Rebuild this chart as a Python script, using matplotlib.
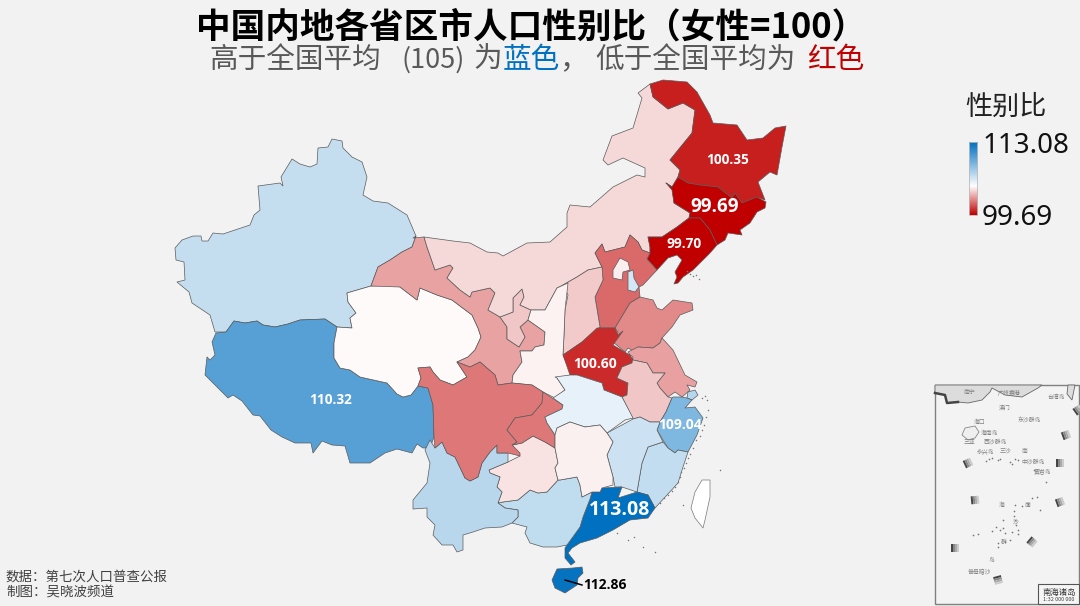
import matplotlib

matplotlib.use("Agg")

import math

import matplotlib.pyplot as plt
import numpy as np
from matplotlib.colors import LinearSegmentedColormap, TwoSlopeNorm
from matplotlib.patches import Polygon, Rectangle

plt.rcParams["font.family"] = ["Noto Sans CJK SC", "DejaVu Sans"]

# outlines, in image pixels
XINJIANG = [(175,248),(182,240),(193,236),(201,236),(202,241),(208,241),(213,233),(223,234),(250,225),(254,215),(260,210),(258,186),(280,183),(283,186),(281,177),(292,159),(300,164),(310,167),(317,164),(318,148),(328,147),(332,139),(342,141),(343,148),(352,157),(362,162),(367,177),(363,195),(373,201),(388,203),(407,215),(416,236),(412,247),(402,252),(390,260),(378,267),(371,286),(347,293),(348,302),(356,313),(350,318),(352,328),(337,327),(325,319),(300,320),(288,324),(275,327),(263,325),(257,321),(245,323),(234,321),(226,332),(215,332),(210,315),(192,303),(189,292),(177,282),(185,280),(184,262),(176,260)]
TIBET = [(212,342),(216,333),(226,332),(234,321),(245,323),(257,321),(263,325),(275,327),(288,324),(300,320),(325,319),(337,327),(334,343),(334,358),(340,368),(350,370),(360,377),(387,383),(397,394),(403,397),(411,395),(418,386),(428,388),(433,405),(434,437),(430,448),(423,448),(417,444),(412,453),(397,449),(385,453),(370,463),(350,463),(345,446),(332,445),(322,441),(313,453),(311,443),(295,443),(282,437),(271,430),(260,416),(253,415),(242,401),(233,395),(228,398),(215,385),(205,375),(207,357),(210,360),(215,355)]
QINGHAI = [(347,293),(371,286),(393,285),(400,287),(417,300),(420,288),(437,295),(452,300),(472,315),(478,328),(481,337),(475,350),(468,357),(457,362),(467,377),(453,385),(440,380),(433,372),(430,367),(418,368),(421,378),(418,386),(411,395),(403,397),(397,394),(387,383),(360,377),(350,370),(340,368),(334,358),(334,343),(337,327),(352,328),(350,318),(356,313),(348,302)]
GANSU = [(413,238),(424,237),(427,247),(435,270),(450,265),(453,268),(447,278),(460,290),(470,297),(472,292),(490,288),(495,293),(488,310),(500,317),(507,327),(507,339),(519,347),(525,337),(520,327),(528,320),(545,332),(544,345),(535,347),(532,351),(520,351),(522,362),(513,375),(512,383),(498,385),(495,375),(480,362),(470,367),(457,362),(468,357),(475,350),(481,337),(478,328),(472,315),(452,300),(437,295),(420,288),(417,300),(400,287),(371,286),(378,267),(390,260),(402,252),(412,247),(416,236)]
NINGXIA = [(500,317),(513,312),(513,298),(522,289),(524,297),(520,305),(531,310),(528,320),(520,327),(525,337),(519,347),(507,339),(507,327)]
INNER_MONGOLIA = [(424,237),(453,241),(470,243),(487,252),(498,253),(503,256),(527,243),(550,242),(567,227),(567,213),(570,205),(590,207),(613,187),(637,175),(645,177),(645,168),(623,158),(608,165),(603,160),(612,136),(633,128),(642,98),(638,93),(650,84),(653,97),(668,109),(683,103),(695,110),(692,133),(670,160),(680,170),(678,177),(672,187),(666,183),(672,187),(674,203),(690,213),(689,218),(677,227),(662,237),(648,237),(650,247),(650,253),(642,250),(638,242),(630,235),(625,247),(605,252),(602,244),(595,253),(602,267),(588,270),(577,277),(563,285),(557,288),(545,310),(531,310),(520,305),(524,297),(522,289),(513,298),(513,312),(500,317),(488,310),(495,293),(490,288),(472,292),(470,297),(460,290),(447,278),(453,268),(450,265),(435,270),(427,247)]
HEILONGJIANG = [(650,84),(663,80),(687,82),(697,92),(710,115),(713,123),(737,125),(747,140),(763,138),(775,128),(786,126),(782,147),(777,175),(770,172),(758,182),(765,200),(757,197),(742,203),(735,193),(732,198),(718,187),(700,185),(688,183),(678,177),(680,170),(670,160),(692,133),(695,110),(683,103),(668,109),(653,97)]
JILIN = [(666,183),(672,187),(678,177),(688,183),(700,185),(718,187),(732,198),(735,193),(742,203),(757,197),(766,202),(765,208),(757,212),(750,223),(740,230),(742,235),(728,233),(725,240),(717,245),(710,230),(700,218),(689,218),(690,213),(674,203),(672,190)]
LIAONING = [(648,237),(662,237),(677,227),(689,218),(700,218),(710,230),(717,245),(710,253),(693,270),(683,277),(678,283),(674,284),(677,277),(675,272),(682,260),(677,255),(668,258),(657,270),(647,259),(650,253),(650,247)]
HEBEI = [(595,253),(602,244),(605,252),(625,247),(630,235),(638,242),(642,250),(650,253),(647,259),(657,270),(643,285),(639,287),(640,297),(630,303),(615,328),(597,328),(600,327),(595,297),(603,280),(602,267)]
BEIJING = [(613,270),(620,258),(628,262),(630,270),(623,272),(622,280),(613,278)]
TIANJIN = [(628,272),(633,270),(634,278),(639,287),(635,292),(628,290)]
SHANXI = [(563,285),(577,277),(588,270),(602,267),(603,280),(595,297),(600,327),(582,342),(563,355),(564,335),(565,310),(568,295)]
SHAANXI = [(568,283),(557,288),(545,310),(531,310),(528,320),(545,332),(544,345),(535,347),(532,351),(520,351),(522,362),(513,375),(512,383),(532,385),(543,392),(555,398),(565,390),(557,378),(572,375),(563,355),(564,335),(565,310)]
SHANDONG = [(613,342),(618,332),(615,328),(630,303),(640,297),(653,300),(657,308),(662,310),(673,300),(692,303),(693,310),(680,315),(672,327),(662,338),(660,343),(653,348),(638,347),(635,352),(628,348),(625,352)]
HENAN = [(597,328),(615,328),(618,335),(623,331),(613,345),(633,357),(632,363),(622,367),(617,378),(628,383),(627,395),(622,397),(604,390),(602,383),(577,375),(570,375),(563,355),(582,342)]
JIANGSU = [(628,352),(638,347),(653,348),(660,343),(662,338),(673,350),(685,375),(697,382),(695,387),(687,385),(690,390),(682,397),(675,392),(668,397),(660,388),(657,383),(665,373),(653,373),(647,363),(633,360)]
ANHUI = [(629,354),(633,360),(647,363),(653,373),(665,373),(657,383),(660,388),(668,397),(672,398),(666,412),(660,422),(650,422),(640,417),(633,419),(622,397),(627,395),(628,383),(617,378),(622,367),(632,363),(633,357)]
SHANGHAI = [(688,392),(695,390),(698,395),(692,400),(687,398)]
ZHEJIANG = [(672,398),(673,397),(682,397),(687,398),(692,400),(685,408),(695,407),(703,418),(697,435),(688,452),(678,450),(675,453),(668,448),(663,440),(657,430),(660,422),(666,412)]
FUJIAN = [(663,442),(668,448),(675,453),(678,450),(688,452),(683,467),(678,483),(667,495),(655,508),(648,495),(637,492),(642,463),(648,447)]
JIANGXI = [(607,433),(622,425),(633,419),(640,417),(650,422),(660,422),(657,430),(663,442),(648,447),(642,463),(637,492),(622,487),(615,487),(613,477),(607,455),(613,442)]
GUANGDONG = [(592,492),(600,492),(602,488),(622,487),(618,498),(637,492),(648,495),(655,508),(648,518),(630,520),(613,530),(597,538),(580,543),(572,548),(568,553),(575,562),(571,565),(565,558),(565,548),(567,545),(580,527),(583,517),(590,499)]
HAINAN = [(557,569),(573,568),(582,567),(583,573),(578,578),(577,585),(565,593),(555,588),(552,580)]
GUANGXI = [(498,503),(503,502),(518,500),(530,490),(538,493),(547,492),(558,480),(560,480),(577,477),(580,485),(582,497),(592,492),(590,499),(583,517),(580,527),(567,545),(557,547),(543,547),(530,543),(525,533),(527,527),(512,523),(518,517),(518,510),(505,508)]
GUIZHOU = [(489,470),(508,462),(520,456),(512,445),(522,443),(533,436),(545,442),(555,448),(558,463),(555,468),(558,480),(547,492),(538,493),(530,490),(518,500),(503,502),(498,503),(502,492),(497,487),(500,477),(490,473)]
YUNNAN = [(430,440),(435,448),(442,442),(447,453),(455,457),(465,478),(470,481),(478,477),(482,463),(490,452),(497,445),(497,453),(508,453),(508,462),(489,470),(490,473),(500,477),(497,487),(502,492),(498,503),(505,508),(518,510),(518,517),(512,523),(502,527),(485,528),(473,532),(463,535),(463,550),(457,552),(453,545),(442,545),(433,535),(435,525),(427,517),(427,508),(413,509),(413,500),(427,483),(430,463),(425,450)]
SICHUAN = [(418,368),(430,367),(433,372),(440,380),(453,385),(467,377),(457,362),(470,367),(480,362),(495,375),(498,385),(512,383),(532,385),(543,392),(542,403),(532,415),(515,418),(507,430),(517,442),(512,445),(520,453),(520,456),(508,453),(497,453),(497,445),(490,452),(482,463),(478,477),(470,481),(465,478),(455,457),(447,453),(442,442),(435,448),(434,437),(433,405),(428,388),(418,386),(421,378)]
CHONGQING = [(543,392),(563,405),(562,409),(545,417),(547,423),(555,435),(555,448),(545,442),(533,436),(522,443),(513,445),(517,442),(507,430),(515,418),(532,415),(542,403)]
HUBEI = [(555,377),(570,375),(577,375),(602,383),(604,390),(622,397),(633,418),(625,420),(607,433),(600,425),(585,427),(570,422),(557,428),(555,435),(547,423),(545,417),(562,409),(563,405),(553,398),(565,390),(557,378)]
HUNAN = [(555,435),(557,428),(570,422),(585,427),(600,425),(607,433),(613,442),(607,455),(613,477),(613,485),(602,488),(600,492),(592,492),(582,497),(580,485),(577,477),(560,480),(558,480),(555,468),(558,463),(555,448)]
TAIWAN = [(702,480),(710,480),(710,497),(705,520),(703,528),(695,518),(691,508),(695,492)]

# province outlines, values read off the picture or estimated from the fill colour
OUTLINES = [XINJIANG, TIBET, QINGHAI, GANSU, NINGXIA, INNER_MONGOLIA, HEILONGJIANG, JILIN, LIAONING, HEBEI, BEIJING, TIANJIN, SHANXI, SHAANXI, SHANDONG, HENAN, JIANGSU, ANHUI, SHANGHAI, ZHEJIANG, FUJIAN, JIANGXI, GUANGDONG, HAINAN, GUANGXI, GUIZHOU, YUNNAN, SICHUAN, CHONGQING, HUBEI, HUNAN]
RATIOS = [106.85, 110.32, 104.9, 103.09, 103.8, 104.2, 100.35, 99.69, 99.70, 101.92, 104.65, 106.33, 103.9, 104.73, 102.56, 100.60, 103.03, 103.8, 107.33, 109.04, 106.94, 106.62, 113.08, 112.86, 107.0, 104.4, 107.24, 102.19, 102.19, 105.8, 104.7]

VALUE_LABELS = ["100.35", "99.69", "99.70", "100.60", "110.32", "109.04", "113.08"]
LABEL_X = [728, 715, 684, 595, 331, 680, 620]
LABEL_Y = [160, 207, 244, 364, 400, 425, 510]
LABEL_SIZE = [9.8, 13.6, 9.8, 10, 9.8, 10, 14]

ISLAND_X = [687, 690, 693, 696, 699, 702, 705, 707, 708, 706, 704, 702, 700, 696, 693, 690, 688, 686, 684, 681, 680, 678, 675, 672, 668, 664, 660, 617, 634, 628, 643, 655, 683, 720]
ISLAND_Y = [271, 274, 276, 275, 279, 398, 396, 400, 410, 417, 425, 430, 436, 440, 448, 454, 458, 463, 468, 472, 477, 482, 487, 491, 495, 498, 503, 533, 537, 540, 547, 552, 505, 470]

INSET_DOT_X = [986, 989, 992, 998, 1000, 1010, 1012, 1015, 1018, 1034, 1046, 1003, 1015, 1014, 1014, 1015, 1016, 1022, 1028, 1032, 1037, 1040, 1018, 1003, 1000, 996, 992, 978, 973, 1005, 1012, 1018, 1010, 998, 1005, 998]
INSET_DOT_Y = [461, 459, 458, 460, 459, 462, 464, 459, 460, 470, 482, 520, 505, 511, 516, 520, 525, 506, 504, 498, 497, 510, 530, 528, 530, 527, 531, 534, 535, 533, 532, 534, 540, 547, 542, 543]
DASH_X = [968, 975, 955, 998, 1032, 1060, 1060, 1066, 1078]
DASH_Y = [463, 500, 548, 580, 542, 502, 463, 435, 410]
DASH_ANGLE = [-25, -5, 0, 75, 40, -20, 0, -20, -35]

INSET_LAND = [(935,385),(1042,385),(1038,388),(1022,397),(1005,395),(992,388),(990,392),(982,400),(968,403),(958,402),(947,403),(945,395),(935,393)]
INSET_SHORE = [(935,393),(945,395),(947,403),(958,402)]
INSET_HAINAN = [(965,428),(975,426),(979,432),(975,438),(968,440),(962,435)]
INSET_TAIWAN = [(1068,385),(1075,385),(1072,400),(1067,394)]
INSET_TEXTS = ["南宁", "广州", "香港", "澳门", "台湾岛", "东沙群岛", "海口", "海南岛", "三亚", "西沙群岛", "永兴岛", "三沙", "南", "中沙群岛", "黄岩岛", "海", "南", "沙", "群", "岛", "曾母暗沙"]
INSET_TEXT_X = [970, 1004, 1015, 1005, 1056, 1029, 980, 990, 969, 995, 986, 1005, 1025, 1033, 1043, 1002, 1028, 1016, 1004, 991, 979]
INSET_TEXT_Y = [392, 392, 392, 408, 397, 420, 422, 433, 442, 442, 451, 451, 451, 462, 471, 505, 505, 522, 542, 561, 572]

BACKGROUND = "#f2f2f2"
ratio_cmap = LinearSegmentedColormap.from_list("ratio", ["#c00000", "#ffffff", "#0070c0"])
ratio_norm = TwoSlopeNorm(vmin=99.69, vcenter=105, vmax=113.08)

fig = plt.figure(figsize=(10.8, 6.06), dpi=100, facecolor=BACKGROUND)
ax = fig.add_axes([0, 0, 1, 1])
ax.set_facecolor(BACKGROUND)

for outline, ratio in zip(OUTLINES, RATIOS):
    ax.add_patch(Polygon(outline, closed=True, facecolor=ratio_cmap(ratio_norm(ratio)), edgecolor="#5a5a5a", linewidth=0.5, joinstyle="round", zorder=2))
ax.add_patch(Polygon(TAIWAN, closed=True, facecolor="white", edgecolor="#777777", linewidth=0.5, zorder=2))
ax.scatter(ISLAND_X, ISLAND_Y, s=1.2, color="#777777", linewidths=0, zorder=2)

for text, x, y, size in zip(VALUE_LABELS, LABEL_X, LABEL_Y, LABEL_SIZE):
    ax.text(x, y, text, color="white", fontsize=size, family="Open Sans", fontweight="bold", ha="center", va="center", zorder=5)
ax.plot([565, 582], [580, 585], color="black", linewidth=1.1, zorder=5)
ax.text(605, 585, "112.86", color="black", fontsize=10, family="Open Sans", fontweight="bold", ha="center", va="center", zorder=5)

# titles, coloured pieces placed one after another
ax.text(531, 27, "中国内地各省区市人口性别比（女性=100）", fontsize=24.9, fontweight="bold", color="black", ha="center", va="center")
for piece, x, color, size in [
    ("高于全国平均", 209, "#595959", 20.6),
    ("(105)", 401, "#595959", 19.5),
    ("为", 473, "#595959", 20.6),
    ("蓝色", 503, "#0070c0", 20.6),
    ("，", 559, "#595959", 20.6),
    ("低于全国平均为", 595, "#595959", 20.6),
    ("红色", 807, "#c00000", 20.6),
]:
    ax.text(x, 60, piece, fontsize=size, color=color, ha="left", va="center")

# legend
ax.text(1006, 107, "性别比", fontsize=19.5, color="#222222", ha="center", va="center")
gradient = np.linspace(113.08, 99.69, 200).reshape(-1, 1)
ax.imshow(ratio_norm(gradient), cmap=ratio_cmap, vmin=0, vmax=1, extent=(968.5, 977, 215, 142), aspect="auto", zorder=3)
ax.add_patch(Rectangle((968.5, 142), 8.5, 73, fill=False, edgecolor="#bbbbbb", linewidth=0.6, zorder=4))
ax.text(983, 146, "113.08", fontsize=20, family="Noto Sans", color="#111111", ha="left", va="center")
ax.text(982, 218, "99.69", fontsize=20, family="Noto Sans", color="#111111", ha="left", va="center")

ax.text(6, 577, "数据：第七次人口普查公报", fontsize=9.7, color="#404040", ha="left", va="center")
ax.text(6, 593, "制图：吴晓波频道", fontsize=9.7, color="#404040", ha="left", va="center")

# inset of the south china sea
ax.add_patch(Rectangle((935, 385), 144, 219, facecolor="#f3f3f3", edgecolor="#808080", linewidth=1.0, zorder=6))
ax.add_patch(Polygon(INSET_LAND, closed=True, facecolor="#dcdcdc", edgecolor="#666666", linewidth=0.6, zorder=7))
ax.plot(*zip(*INSET_SHORE), color="#444444", linewidth=1.8, zorder=7)
ax.add_patch(Polygon(INSET_HAINAN, closed=True, facecolor="#efefef", edgecolor="#888888", linewidth=0.6, zorder=7))
ax.add_patch(Polygon(INSET_TAIWAN, closed=True, facecolor="#dddddd", edgecolor="#666666", linewidth=0.6, zorder=7))
ax.scatter(INSET_DOT_X, INSET_DOT_Y, s=1.5, color="#777777", linewidths=0, zorder=7)
for text, x, y in zip(INSET_TEXTS, INSET_TEXT_X, INSET_TEXT_Y):
    ax.text(x, y, text, fontsize=4.2, color="#808080", ha="center", va="center", zorder=8)
for x, y, angle in zip(DASH_X, DASH_Y, DASH_ANGLE):
    rad = math.radians(angle)
    for step, shade in zip([-3, -1, 1, 3], ["#444444", "#888888", "#aaaaaa", "#cccccc"]):
        cx = x + step * math.cos(rad)
        cy = y + step * math.sin(rad)
        ax.add_patch(Rectangle((cx - 1, cy - 4), 2, 8, angle=angle, rotation_point="center", facecolor=shade, edgecolor="none", zorder=8))
ax.add_patch(Rectangle((1038, 584), 41, 20, facecolor="#f5f5f5", edgecolor="#555555", linewidth=0.8, zorder=8))
ax.text(1059, 592, "南海诸岛", fontsize=6, color="#333333", ha="center", va="center", zorder=9)
ax.text(1059, 599.5, "1:32 000 000", fontsize=4, color="#444444", ha="center", va="center", zorder=9)

ax.set_xlim(0, 1080)
ax.set_ylim(606, 0)
ax.axis("off")
fig.savefig("out.png", dpi=100, facecolor=BACKGROUND)
